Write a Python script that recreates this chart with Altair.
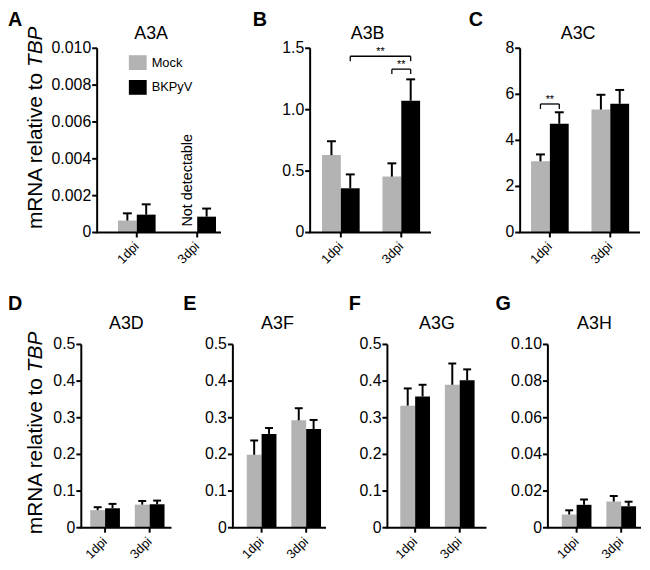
import altair as alt
import pandas as pd

FONT = "Liberation Sans"
GRAY = "#b3b3b3"
BLACK = "#000000"

# ---------------- data ----------------
genes = ["A3A", "A3B", "A3C", "A3D", "A3F", "A3G", "A3H"]
panel_letters = ["A", "B", "C", "D", "E", "F", "G"]
timepoints = ["1dpi", "3dpi"]
series = ["Mock", "BKPyV"]

# mean mRNA relative to TBP, one value per gene (order of `genes`)
mock_1dpi = [0.00065, 0.63, 3.09, 0.048, 0.199, 0.333, 0.0072]
mock_3dpi = [None, 0.455, 5.34, 0.063, 0.293, 0.390, 0.0143]
bkpyv_1dpi = [0.00097, 0.36, 4.72, 0.053, 0.256, 0.358, 0.0125]
bkpyv_3dpi = [0.00086, 1.073, 5.59, 0.064, 0.269, 0.402, 0.0117]
# SEM (upper error bar)
mock_1dpi_sem = [0.00039, 0.113, 0.30, 0.008, 0.039, 0.047, 0.0023]
mock_3dpi_sem = [None, 0.108, 0.64, 0.010, 0.033, 0.058, 0.0030]
bkpyv_1dpi_sem = [0.00056, 0.113, 0.50, 0.012, 0.016, 0.032, 0.0029]
bkpyv_3dpi_sem = [0.00044, 0.174, 0.60, 0.010, 0.025, 0.030, 0.0025]

# y-axis ticks and labels per panel
y_max = [0.010, 1.5, 8, 0.5, 0.5, 0.5, 0.10]
y_ticks = [
    [0, 0.002, 0.004, 0.006, 0.008, 0.010],
    [0, 0.5, 1.0, 1.5],
    [0, 2, 4, 6, 8],
    [0, 0.1, 0.2, 0.3, 0.4, 0.5],
    [0, 0.1, 0.2, 0.3, 0.4, 0.5],
    [0, 0.1, 0.2, 0.3, 0.4, 0.5],
    [0, 0.02, 0.04, 0.06, 0.08, 0.10],
]
y_labels = [
    ["0", "0.002", "0.004", "0.006", "0.008", "0.010"],
    ["0", "0.5", "1.0", "1.5"],
    ["0", "2", "4", "6", "8"],
    ["0", "0.1", "0.2", "0.3", "0.4", "0.5"],
    ["0", "0.1", "0.2", "0.3", "0.4", "0.5"],
    ["0", "0.1", "0.2", "0.3", "0.4", "0.5"],
    ["0", "0.02", "0.04", "0.06", "0.08", "0.10"],
]

y_title = ["mRNA relative to", "TBP"]
nd_label = ["Not detectable"]
nd_gene, nd_dpi, nd_series = "A3A", "3dpi", "Mock"

bracket_gene = ["A3B", "A3B", "A3C"]
bracket_start_dpi = ["1dpi", "3dpi", "1dpi"]
bracket_start_series = ["BKPyV", "Mock", "Mock"]
bracket_end_dpi = ["3dpi", "3dpi", "1dpi"]
bracket_end_series = ["BKPyV", "BKPyV", "BKPyV"]
bracket_level = [1.435, 1.33, 5.58]
bracket_text = ["**", "**", "**"]

# ---------------- layout (pixels) ----------------
plot_w = [125, 122, 121, 91, 94, 100, 94]
left_gap = [21, 12, 11, 9, 14, 13, 14]
letter_dx = [-90, -58, -52, -74, -50, -39, -53]
title_dx = [-8, -3, -2, 0, -2, 0, 0]


def series_values(i):
    vals = {
        ("1dpi", "Mock"): (mock_1dpi[i], mock_1dpi_sem[i]),
        ("1dpi", "BKPyV"): (bkpyv_1dpi[i], bkpyv_1dpi_sem[i]),
        ("3dpi", "Mock"): (mock_3dpi[i], mock_3dpi_sem[i]),
        ("3dpi", "BKPyV"): (bkpyv_3dpi[i], bkpyv_3dpi_sem[i]),
    }
    rows = []
    for tp in timepoints:
        for s in series:
            m, e = vals[(tp, s)]
            if m is None:
                continue
            rows.append({"dpi": tp, "series": s, "mean": m, "top": m + e})
    return pd.DataFrame(rows)


def panel(i):
    g = genes[i]
    top = i < 3
    W = plot_w[i]
    H = 186 if top else 185
    step = 61 if top else 45
    bw = 19 if top else 15
    cap = 9 if top else 8
    L = left_gap[i]
    R = W - L - step - 2 * bw
    p_in = 1 - 2 * bw / step
    p_out = (L + R) / (2 * step)
    al = L / (L + R)

    xs = alt.Scale(domain=timepoints, paddingInner=p_in, paddingOuter=p_out,
                   align=al, round=False)
    xo = alt.Scale(domain=series, paddingInner=0, paddingOuter=0, round=False)
    ys = alt.Scale(domain=[0, y_max[i]], nice=False, zero=True)

    def X():
        return alt.X("dpi:N", scale=xs, axis=None, sort=timepoints)

    def XO():
        return alt.XOffset("series:N", scale=xo, sort=series)

    def Y(f):
        return alt.Y(f"{f}:Q", scale=ys, axis=None, stack=None)

    df = series_values(i)
    if i == 0:
        legend = alt.Legend(title=None, orient="none", legendX=32, legendY=5.5,
                            symbolType="M-1,-0.83H1V0.83H-1Z", symbolSize=324,
                            symbolStrokeWidth=0, symbolOpacity=1,
                            labelFont=FONT, labelFontSize=13, labelColor=BLACK,
                            labelOffset=5, rowPadding=8, padding=0)
    else:
        legend = None
    color = alt.Color("series:N", scale=alt.Scale(domain=series, range=[GRAY, BLACK]),
                      legend=legend, sort=series)

    base = alt.Chart(df)
    bars = base.mark_bar(opacity=1).encode(x=X(), xOffset=XO(), y=Y("mean"), color=color)
    err = base.mark_rule(color=BLACK, strokeWidth=2).encode(
        x=X(), xOffset=XO(), y=Y("mean"), y2=alt.Y2("top:Q"))
    caps = base.mark_tick(color=BLACK, thickness=2, size=cap, orient="horizontal",
                          opacity=1).encode(x=X(), xOffset=XO(), y=Y("top"))
    layers = [bars, err, caps]

    # ---- axes drawn through the panel's scales ----
    one = pd.DataFrame({"a": [0]})
    ytk = pd.DataFrame({"v": y_ticks[i], "lab": y_labels[i]})
    xtk = pd.DataFrame({"dpi": timepoints})
    layers.append(alt.Chart(one).mark_rule(color=BLACK, strokeWidth=2).encode(
        x=alt.value(0), y=alt.value(0), y2=alt.value(H)))
    layers.append(alt.Chart(one).mark_rule(color=BLACK, strokeWidth=2).encode(
        x=alt.value(-1), x2=alt.value(W), y=alt.value(H)))
    layers.append(alt.Chart(ytk).mark_rule(color=BLACK, strokeWidth=2).encode(
        y=Y("v"), x=alt.value(-5), x2=alt.value(0)))
    layers.append(alt.Chart(ytk).mark_text(
        font=FONT, fontSize=16, align="right", baseline="middle", color=BLACK).encode(
        y=Y("v"), x=alt.value(-6), text="lab:N"))
    layers.append(alt.Chart(xtk).mark_rule(color=BLACK, strokeWidth=2).encode(
        x=X(), y=alt.value(H), y2=alt.value(H + 5)))
    layers.append(alt.Chart(xtk).mark_text(
        font=FONT, fontSize=13, angle=315, align="right", baseline="middle",
        color=BLACK).encode(x=X(), y=alt.value(H + 12), text="dpi:N"))

    # panel letter
    layers.append(alt.Chart(pd.DataFrame({"t": [panel_letters[i]]})).mark_text(
        font=FONT, fontSize=20, fontWeight="bold", align="left", baseline="top",
        color=BLACK).encode(text="t:N", x=alt.value(letter_dx[i]), y=alt.value(-38 if top else -51)))
    # gene title
    layers.append(alt.Chart(pd.DataFrame({"t": [g]})).mark_text(
        font=FONT, fontSize=18, align="center", baseline="alphabetic",
        color=BLACK).encode(text="t:N", x=alt.value(W / 2 + title_dx[i]),
                             y=alt.value(-9 if top else -16)))

    # y-axis title on first panel of each row
    if i in (0, 3):
        ax = -56 if top else -40
        jy = 25 if top else 34
        layers.append(alt.Chart(pd.DataFrame({"t": [y_title[0]]})).mark_text(
            font=FONT, fontSize=21, angle=270, align="right", baseline="alphabetic",
            color=BLACK).encode(text="t:N", x=alt.value(ax), y=alt.value(jy)))
        layers.append(alt.Chart(pd.DataFrame({"t": [y_title[1]]})).mark_text(
            font=FONT, fontSize=21, angle=270, align="left", baseline="alphabetic",
            fontStyle="italic", color=BLACK).encode(
            text="t:N", x=alt.value(ax), y=alt.value(jy - 6)))

    if g == nd_gene:
        nd = pd.DataFrame({"dpi": [nd_dpi], "series": [nd_series], "zero": [0.0],
                           "t": nd_label})
        layers.append(alt.Chart(nd).mark_text(
            font=FONT, fontSize=14.5, angle=270, align="left", baseline="middle",
            yOffset=-6, color=BLACK).encode(x=X(), xOffset=XO(), y=Y("zero"), text="t:N"))

    # significance brackets
    pts, same, cross = [], [], []
    for k, bg in enumerate(bracket_gene):
        if bg != g:
            continue
        pts.append({"id": k, "dpi": bracket_start_dpi[k], "series": bracket_start_series[k],
                    "level": bracket_level[k]})
        pts.append({"id": k, "dpi": bracket_end_dpi[k], "series": bracket_end_series[k],
                    "level": bracket_level[k]})
        if bracket_start_dpi[k] == bracket_end_dpi[k]:
            same.append({"dpi": bracket_start_dpi[k], "level": bracket_level[k],
                         "t": bracket_text[k]})
        else:
            cross.append({"dpi": bracket_start_dpi[k], "series": bracket_start_series[k],
                          "level": bracket_level[k], "t": bracket_text[k]})
    if pts:
        pdf = pd.DataFrame(pts)
        layers.append(alt.Chart(pdf).mark_line(color=BLACK, strokeWidth=1.3).encode(
            x=X(), xOffset=XO(), y=Y("level"), detail="id:N"))
        layers.append(alt.Chart(pdf).mark_tick(
            color=BLACK, orient="vertical", size=5, thickness=1.3, yOffset=2.5,
            opacity=1).encode(x=X(), xOffset=XO(), y=Y("level")))
    if same:
        layers.append(alt.Chart(pd.DataFrame(same)).mark_text(
            font=FONT, fontSize=11, baseline="alphabetic", align="center", yOffset=-1,
            color=BLACK).encode(x=X(), y=Y("level"), text="t:N"))
    if cross:
        layers.append(alt.Chart(pd.DataFrame(cross)).mark_text(
            font=FONT, fontSize=11, baseline="alphabetic", align="center", yOffset=-1,
            dx=step / 2, color=BLACK).encode(x=X(), xOffset=XO(), y=Y("level"), text="t:N"))

    return alt.layer(*layers).properties(width=W, height=H)


panels = [panel(i) for i in range(7)]

RES = dict(x="independent", y="independent", color="independent", xOffset="independent")

spacer = alt.Chart(pd.DataFrame({"v": [0]})).mark_point(opacity=0).encode(
    x=alt.value(0), y=alt.value(0)).properties(width=1, height=1)

top_inner = alt.hconcat(panels[0], panels[1], panels[2], spacing=90,
                        bounds="flush").resolve_scale(**RES)
top_row = alt.hconcat(spacer, top_inner, spacing=15, bounds="flush").resolve_scale(**RES)
bottom_row = alt.hconcat(panels[3], panels[4], panels[5], panels[6], spacing=62,
                         bounds="flush").resolve_scale(**RES)

chart = (
    alt.vconcat(top_row, bottom_row, spacing=299, bounds="flush")
    .resolve_scale(**RES)
    .properties(padding=0)
    .configure_view(stroke=None)
)

chart.save("out.html", embed_options={"renderer": "svg", "actions": False})
